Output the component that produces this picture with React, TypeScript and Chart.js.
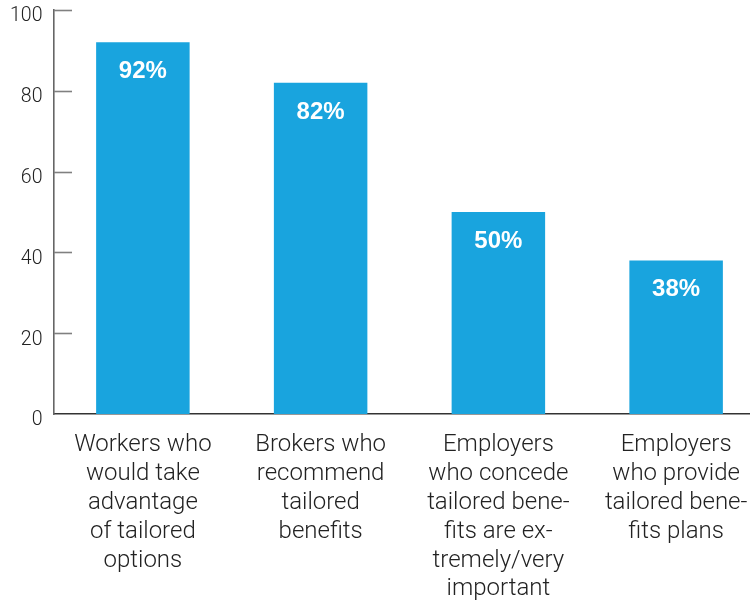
import React, { useEffect, useRef } from "react";
import { Chart, registerables } from "chart.js";

Chart.register(...registerables);

const categories: string[][] = [
  ["Workers who", "would take", "advantage", "of tailored", "options"],
  ["Brokers who", "recommend", "tailored", "benefits"],
  ["Employers", "who concede", "tailored bene-", "fits are ex-", "tremely/very", "important"],
  ["Employers", "who provide", "tailored bene-", "fits plans"],
];
const values: number[] = [92, 82, 50, 38];
const valueLabels: string[] = ["92%", "82%", "50%", "38%"];
const yTicks: number[] = [0, 20, 40, 60, 80, 100];

const BAR_COLOR = "#19a4de";

const yAxisPlugin = {
  id: "yAxisDecor",
  afterDatasetsDraw(chart: any) {
    const y = chart.scales.y;
    const ctx = chart.ctx;
    ctx.save();
    ctx.strokeStyle = "#808080";
    ctx.lineWidth = 1.6;
    yTicks.forEach((v) => {
      if (v === 0) return;
      const py = Math.round(y.getPixelForValue(v)) + 0.5;
      ctx.beginPath();
      ctx.moveTo(y.right, py);
      ctx.lineTo(y.right + 18, py);
      ctx.stroke();
    });
    ctx.fillStyle = "#222222";
    ctx.font = "300 19.5px Roboto, sans-serif";
    ctx.textAlign = "right";
    ctx.textBaseline = "middle";
    yTicks.forEach((v) => {
      const py = y.getPixelForValue(v);
      ctx.fillText(String(v), y.right - 11.5, py + 6.5);
    });
    ctx.restore();
  },
};

const valueLabelPlugin = {
  id: "valueLabels",
  afterDatasetsDraw(chart: any) {
    const meta = chart.getDatasetMeta(0);
    const ctx = chart.ctx;
    ctx.save();
    ctx.fillStyle = "#ffffff";
    ctx.font = "bold 24px 'Liberation Sans', Arial, sans-serif";
    ctx.textAlign = "center";
    ctx.textBaseline = "alphabetic";
    meta.data.forEach((bar: any, i: number) => {
      ctx.fillText(valueLabels[i], bar.x, bar.y + 36);
    });
    ctx.restore();
  },
};

export default function App() {
  const ref = useRef<HTMLCanvasElement | null>(null);
  useEffect(() => {
    if (!ref.current) return;
    const chart = new Chart(ref.current, {
      type: "bar",
      data: {
        labels: categories,
        datasets: [
          {
            data: values,
            backgroundColor: BAR_COLOR,
            borderWidth: 0,
            categoryPercentage: 0.526,
            barPercentage: 1,
          },
        ],
      },
      options: {
        responsive: false,
        animation: false,
        devicePixelRatio: 1,
        layout: { padding: { top: 10, left: 0, right: 0, bottom: 0 } },
        plugins: { legend: { display: false }, tooltip: { enabled: false } },
        scales: {
          x: {
            grid: { display: false },
            border: { display: true, color: "#333333", width: 1.6 },
            ticks: {
              color: "#222222",
              font: { family: "Roboto", weight: "300", size: 24, lineHeight: 1.2 },
              padding: 9,
              maxRotation: 0,
              minRotation: 0,
              autoSkip: false,
            },
            afterFit: (s: any) => {
              s.height = 189;
            },
          },
          y: {
            min: 0,
            max: 100,
            grid: { display: false },
            border: { display: true, color: "#666666", width: 1.6 },
            ticks: {
              stepSize: 20,
              display: false,
            },
            afterFit: (s: any) => {
              s.width = 54;
            },
          },
        },
      },
      plugins: [yAxisPlugin, valueLabelPlugin],
    });
    return () => chart.destroy();
  }, []);
  return (
    <div
      style={{
        position: "fixed",
        left: 0,
        top: 0,
        width: 750,
        height: 603,
        overflow: "hidden",
        background: "#ffffff",
      }}
    >
      <canvas ref={ref} width={765} height={603} style={{ width: 765, height: 603, display: "block" }} />
    </div>
  );
}
